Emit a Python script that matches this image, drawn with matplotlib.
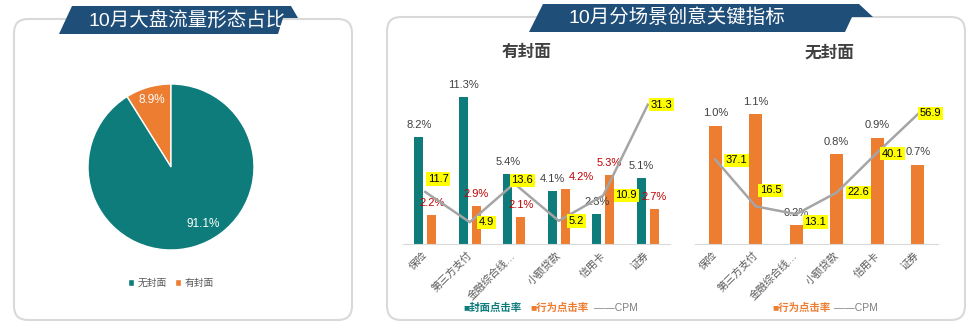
import matplotlib.pyplot as plt
import numpy as np
from matplotlib.patches import FancyBboxPatch, Polygon

plt.rcParams['font.family'] = ['Liberation Sans', 'Noto Sans CJK SC', 'DejaVu Sans']

TEAL = '#0E7C7B'
ORANGE = '#ED7D31'
GRAY = '#A5A5A5'
NAVY = '#1F4E79'
RED = '#C00000'
DARK = '#404040'

# 数据
pie_labels = ['有封面', '无封面']
pie_values = [8.9, 91.1]

scenes = ['保险', '第三方支付', '金融综合线…', '小额贷款', '信用卡', '证券']
cover_ctr = [8.2, 11.3, 5.4, 4.1, 2.3, 5.1]
cover_act = [2.2, 2.9, 2.1, 4.2, 5.3, 2.7]
cover_cpm = [11.7, 4.9, 13.6, 5.2, 10.9, 31.3]
nocover_act = [1.0, 1.1, 0.16, 0.76, 0.9, 0.67]
nocover_cpm = [37.1, 16.5, 13.1, 22.6, 40.1, 56.9]

# CPM 标签偏移 (像素, 向右/向上)
cover_cpm_off = [(13, 13), (17, 0), (8, 3), (18, 0), (23, 0), (14, 0)]
nocover_cpm_off = [(21, -1), (15, 16), (19, -8), (22, 0), (15, -1), (13, 1)]

W, H = 975, 330
fig = plt.figure(figsize=(W / 100, H / 100), dpi=100)


def px_axes(x0, y0, x1, y1):
    return fig.add_axes([x0 / W, 1 - y1 / H, (x1 - x0) / W, (y1 - y0) / H])


# 背景: 面板和标题条
bg = fig.add_axes([0, 0, 1, 1])
bg.set_xlim(0, W)
bg.set_ylim(H, 0)
bg.axis('off')

for x0, y0, w, h in [(14, 19, 338, 301), (387, 17, 578, 303)]:
    bg.add_patch(FancyBboxPatch((x0, y0), w, h, boxstyle='round,pad=0,rounding_size=14',
                                fc='white', ec='#D9D9D9', lw=1.5))

bg.add_patch(Polygon([(59, 34), (72, 6), (291, 6), (298, 18), (283, 18), (278, 34)],
                     closed=True, fc=NAVY, ec='none'))
bg.add_patch(Polygon([(529, 32), (543, 4), (859, 4), (873, 17), (852, 17), (845, 32)],
                     closed=True, fc=NAVY, ec='none'))
bg.text(187, 20, '10月大盘流量形态占比', color='white', fontsize=14, ha='center', va='center')
bg.text(677, 18, '10月分场景创意关键指标', color='white', fontsize=14, ha='center', va='center')

bg.text(527, 52, '有封面', fontsize=12, fontweight='bold', color=DARK, ha='center', va='center')
bg.text(829, 53, '无封面', fontsize=12, fontweight='bold', color=DARK, ha='center', va='center')

# 饼图
ax_pie = px_axes(88, 84, 254, 250)
wedges, texts, autotexts = ax_pie.pie(
    pie_values, colors=[ORANGE, TEAL], startangle=90, counterclock=True,
    autopct='%.1f%%', pctdistance=0.84,
    wedgeprops=dict(edgecolor='white', linewidth=1),
    textprops=dict(color='white', fontsize=8.5))
ax_pie.set_xlim(-1, 1)
ax_pie.set_ylim(-1, 1)
ang = np.deg2rad(-61)
autotexts[1].set_position((0.79 * np.cos(ang), 0.79 * np.sin(ang)))

leg = fig.legend([wedges[1], wedges[0]], [pie_labels[1], pie_labels[0]], loc='center',
                 bbox_to_anchor=(171 / W, 1 - 283 / H), ncol=2, frameon=False, fontsize=7,
                 handlelength=0.6, handleheight=0.6, handletextpad=0.4, columnspacing=0.8)
for t in leg.get_texts():
    t.set_color('#595959')


def style_axes(ax, ax2):
    for a in (ax, ax2):
        for s in ['top', 'right', 'left']:
            a.spines[s].set_visible(False)
        a.set_yticks([])
        a.patch.set_visible(False)
    ax2.spines['bottom'].set_visible(False)
    ax.spines['bottom'].set_color('#D9D9D9')
    ax.set_xlim(-0.5, len(scenes) - 0.5)
    ax.set_xticks(np.arange(len(scenes)))
    ax.set_xticklabels(scenes, rotation=45, ha='right', va='center', rotation_mode='anchor',
                       fontsize=7.5, color='#595959')
    ax.tick_params(axis='x', length=0, pad=7)


def cpm_line(ax2, x, cpm, offs):
    ax2.plot(x, cpm, color=GRAY, lw=1.8, zorder=3)
    for xi, v, (dx, dy) in zip(x, cpm, offs):
        ax2.annotate(f'{v:.1f}', (xi, v), xytext=(dx * 0.72, dy * 0.72), textcoords='offset points',
                     ha='center', va='center', fontsize=8, color='black', zorder=4,
                     bbox=dict(boxstyle='square,pad=0.15', fc='#FFFF00', ec='none'))


# 有封面
x = np.arange(len(scenes))
ax1 = px_axes(403, 70, 670, 244)
w, off = 0.21, 0.145
ax1.bar(x - off, cover_ctr, w, color=TEAL)
ax1.bar(x + off, cover_act, w, color=ORANGE)
ax1.set_ylim(0, 174 / 13)
for xi, v in zip(x - off, cover_ctr):
    ax1.annotate(f'{v:.1f}%', (xi, v), xytext=(0, 8.6), textcoords='offset points',
                 ha='center', va='center', fontsize=8, color=DARK)
for i, (xi, v) in enumerate(zip(x + off, cover_act)):
    dx = 11.5 if i == 3 else 0
    ax1.annotate(f'{v:.1f}%', (xi, v), xytext=(dx, 8.6), textcoords='offset points',
                 ha='center', va='center', fontsize=8, color=RED)
ax1b = ax1.twinx()
ax1b.set_ylim(0, 174 / 4.45)
cpm_line(ax1b, x, cover_cpm, cover_cpm_off)
style_axes(ax1, ax1b)

bg.text(463, 308, '■封面点击率', color=TEAL, fontsize=7.5, fontweight='bold', ha='left', va='center')
bg.text(530, 308, '■行为点击率', color=ORANGE, fontsize=7.5, fontweight='bold', ha='left', va='center')
bg.text(594, 308, '——CPM', color='#808080', fontsize=7.5, ha='left', va='center')

# 无封面
ax2 = px_axes(695, 70, 938, 244)
ax2.bar(x, nocover_act, 0.31, color=ORANGE)
ax2.set_ylim(0, 174 / 118)
for xi, v in zip(x, nocover_act):
    ax2.annotate(f'{v:.1f}%', (xi, v), xytext=(0, 9), textcoords='offset points',
                 ha='center', va='center', fontsize=8, color=DARK)
ax2b = ax2.twinx()
ax2b.set_ylim(0, 174 / 2.28)
cpm_line(ax2b, x, nocover_cpm, nocover_cpm_off)
style_axes(ax2, ax2b)

bg.text(772, 308, '■行为点击率', color=ORANGE, fontsize=7.5, fontweight='bold', ha='left', va='center')
bg.text(834, 308, '——CPM', color='#808080', fontsize=7.5, ha='left', va='center')

fig.savefig('out.png', dpi=100)
